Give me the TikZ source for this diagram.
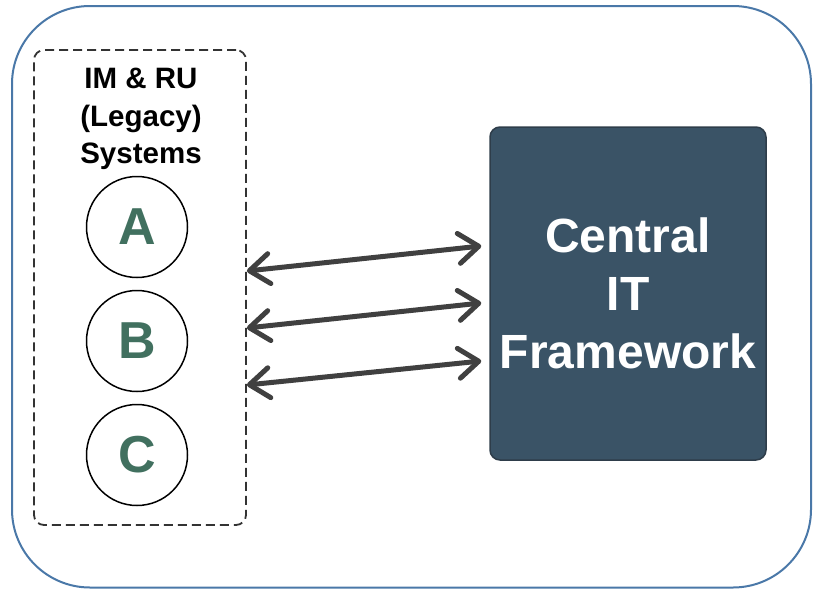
\documentclass[tikz,border=0pt]{standalone}
\usepackage{fontspec}
\setmainfont{Liberation Sans}
\usetikzlibrary{arrows.meta}
\definecolor{frameblue}{HTML}{4A78A8}
\definecolor{boxfill}{HTML}{3A5366}
\definecolor{boxedge}{HTML}{2E3D4A}
\definecolor{lettergreen}{HTML}{41705F}
\definecolor{arrowgray}{HTML}{404040}
\definecolor{dashgray}{HTML}{333333}
\tikzset{
  legacybox/.style={draw=dashgray, line width=1.8pt, dash pattern=on 9pt off 5pt,
    rounded corners=10pt, minimum width=212pt, minimum height=475pt, inner sep=0pt},
  titletext/.style={align=center, font=\bfseries\fontsize{29.5}{37.5}\selectfont},
  sysnode/.style={circle, draw=black, line width=1.5pt, minimum size=101pt, inner sep=0pt,
    text=lettergreen, font=\bfseries\fontsize{52}{60}\selectfont},
  centralbox/.style={draw=boxedge, line width=1.5pt, fill=boxfill, rounded corners=10pt,
    minimum width=276pt, minimum height=333pt, align=center, text=white,
    font=\bfseries\fontsize{48}{58}\selectfont},
  link/.style={draw=arrowgray, line width=5pt, line cap=round,
    {Straight Barb[round, length=20pt, width=30pt]}-{Straight Barb[round, length=20pt, width=30pt]}}
}
\begin{document}
\begin{tikzpicture}[x=1pt, y=-1pt]
  \useasboundingbox (0,0) rectangle (814,589);
  % outer frame
  \draw[frameblue, line width=2pt, rounded corners=78pt] (12,6) rectangle (811,587.5);
  % legacy systems group
  \node[legacybox] (legacy) at (140,287.5) {};
  \node[titletext] (title) at (141,119) {IM \& RU\\(Legacy)\\Systems};
  \node[sysnode] (A) at (137,227) {A};
  \node[sysnode] (B) at (137,341) {B};
  \node[sysnode] (C) at (137,455) {C};
  % central framework
  \node[centralbox] (central) at (628,293.5) {Central\\IT\\Framework};
  % arrow end points on the two boxes
  \coordinate (l1) at (legacy.east |- 0,271);
  \coordinate (l2) at (legacy.east |- 0,328);
  \coordinate (l3) at (legacy.east |- 0,385);
  \coordinate (r1) at ([xshift=-8pt]central.west |- 0,246);
  \coordinate (r2) at ([xshift=-8pt]central.west |- 0,303);
  \coordinate (r3) at ([xshift=-8pt]central.west |- 0,361);
  \draw[link] (l1) -- (r1);
  \draw[link] (l2) -- (r2);
  \draw[link] (l3) -- (r3);
\end{tikzpicture}
\end{document}
